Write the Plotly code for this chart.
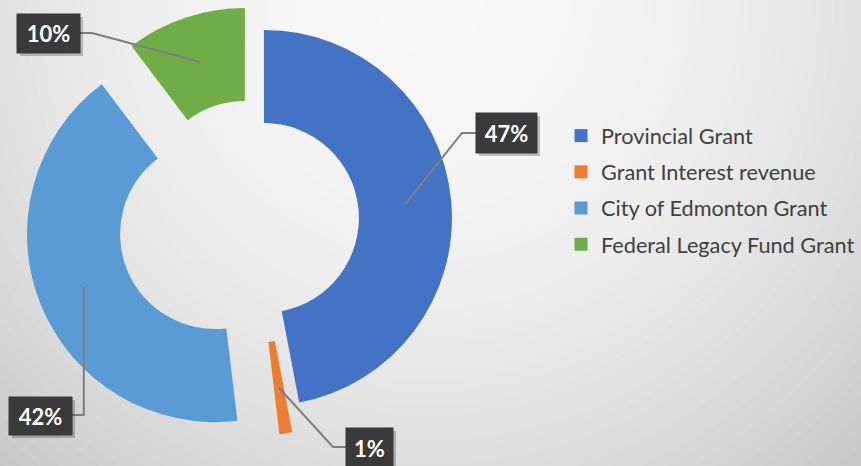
import math
import plotly.graph_objects as go

# ---------------- data ----------------
labels = ["Provincial Grant", "Grant Interest revenue",
          "City of Edmonton Grant", "Federal Legacy Fund Grant"]
values = [47.0, 1.1, 41.6, 10.3]
colors = ["#4472C4", "#ED7D31", "#5B9BD5", "#70AD47"]

# ---------------- layout / style constants ----------------
W, H = 861, 466
CENTER = (252.6, 219.0)        # donut centre in px
R = 188                        # outer radius px
HOLE = 0.505
EXPLODE = [11.4, 29.0, 40.5, 24.3]   # per-slice explosion in px
BOX_CENTER = [(506.5, 133), (369.5, 448), (40.5, 416), (48.5, 33.5)]
BOX_SIZE = [(61, 40), (47, 40), (63, 38), (63, 39)]
ELBOW = [(462, 133), (333, 447), (None, 415), (92, 33)]
FONT = "Lato"

fig = go.Figure()

# background radial gradient (concentric circles)
GC = (430, 0)
def shade(r):
    b = 248 - 1.19e-4 * r * r
    b = max(190, min(248, b))
    b = int(round(b))
    return f"rgb({b},{b},{b})"

shapes = []
for r in range(680, 0, -12):
    shapes.append(dict(type="circle", xref="x", yref="y", layer="below",
                       x0=GC[0] - r, x1=GC[0] + r, y0=GC[1] - r, y1=GC[1] + r,
                       fillcolor=shade(r), line=dict(width=0)))

total = sum(values)
cum = 0.0
annotations = []
for i, v in enumerate(values):
    start = cum / total * 360
    cum += v
    end = cum / total * 360
    mid = math.radians((start + end) / 2)
    dx, dy = math.sin(mid), -math.cos(mid)
    scx = CENTER[0] + EXPLODE[i] * dx
    scy = CENTER[1] + EXPLODE[i] * dy
    cols = [colors[j] if j == i else "rgba(0,0,0,0)" for j in range(len(values))]
    fig.add_trace(go.Pie(
        labels=labels, values=values, sort=False, direction="clockwise",
        rotation=0, hole=HOLE, textinfo="none", showlegend=False,
        hoverinfo="skip",
        marker=dict(colors=cols, line=dict(width=0)),
        domain=dict(x=[(scx - R) / W, (scx + R) / W],
                    y=[1 - (scy + R) / H, 1 - (scy - R) / H]),
    ))
    # leader line
    ra = R * (1 + HOLE) / 2
    ax, ay = scx + ra * dx, scy + ra * dy
    bx, by = BOX_CENTER[i]
    bw, bh = BOX_SIZE[i]
    ex, ey = ELBOW[i]
    if ex is None:
        ex = ax
    edge_x = bx - bw / 2 if ex > bx else bx + bw / 2
    shapes.append(dict(type="path", xref="x", yref="y", layer="above",
                       path=f"M {ax:.1f},{ay:.1f} L {ex:.1f},{ey:.1f} L {edge_x:.1f},{ey:.1f}",
                       line=dict(color="#7f7f7f", width=2)))
    # box shadow
    shapes.append(dict(type="rect", xref="x", yref="y", layer="above",
                       x0=bx - bw / 2 + 3, x1=bx + bw / 2 + 3,
                       y0=by - bh / 2 + 3, y1=by + bh / 2 + 3,
                       fillcolor="rgba(0,0,0,0.22)", line=dict(width=0)))
    pct = round(v / total * 100)
    annotations.append(dict(
        x=bx, y=by, xref="x", yref="y", showarrow=False,
        text=f"<b>{pct}%</b>", width=bw, height=bh,
        align="center", valign="middle",
        bgcolor="#3a3a3a", borderpad=0,
        font=dict(family=FONT, size=22, color="white")))

# legend entries
for i, lab in enumerate(labels):
    fig.add_trace(go.Scatter(
        x=[None], y=[None], mode="markers", name=lab,
        legendgroup=f"g{i}", showlegend=True,
        marker=dict(symbol="square", size=13, color=colors[i]),
        xaxis="x", yaxis="y"))

fig.update_layout(
    width=W, height=H,
    margin=dict(l=0, r=0, t=0, b=0),
    paper_bgcolor=shade(680),
    plot_bgcolor="rgba(0,0,0,0)",
    xaxis=dict(range=[0, W], visible=False, domain=[0, 1], fixedrange=True),
    yaxis=dict(range=[H, 0], visible=False, domain=[0, 1], fixedrange=True),
    shapes=shapes,
    annotations=annotations,
    showlegend=True,
    legend=dict(x=561 / W, xanchor="left", y=1 - 115 / H, yanchor="top",
                font=dict(family=FONT, size=21.7, color="#404040"),
                bgcolor="rgba(0,0,0,0)", tracegroupgap=5,
                itemclick=False, itemdoubleclick=False),
    font=dict(family=FONT),
)

fig.write_html("out.html", config={"displayModeBar": False},
               post_script="document.body.style.margin='0';document.body.style.padding='0';document.body.style.overflow='hidden';")
